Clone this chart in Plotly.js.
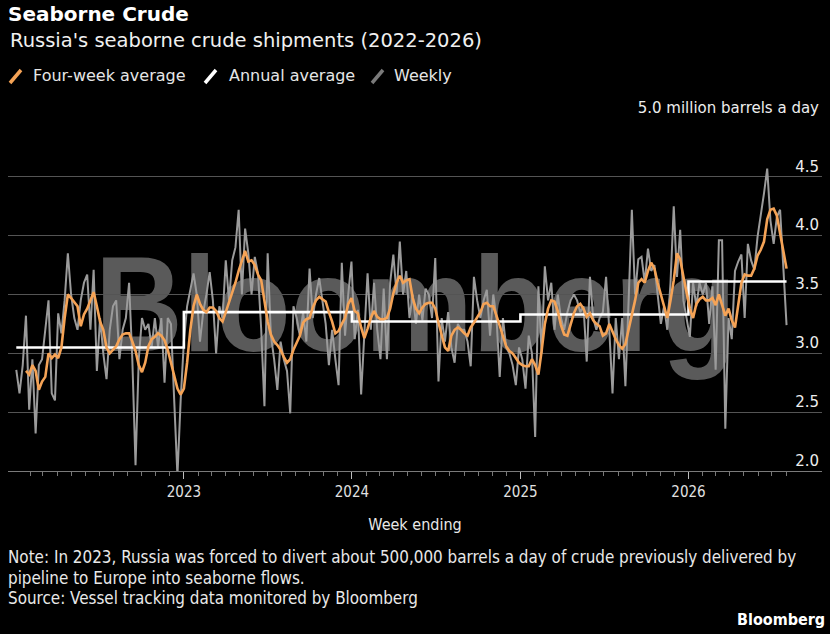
<!DOCTYPE html>
<html><head><meta charset="utf-8">
<script src="https://cdn.plot.ly/plotly-3.0.1.min.js"></script>
<style>
html,body{margin:0;padding:0;background:#000;overflow:hidden;}
#wrap{position:relative;width:830px;height:634px;}
#wm{position:absolute;left:0;top:0;}
#chart{position:absolute;left:0;top:0;width:830px;height:634px;}
</style></head><body>
<div id="wrap">
<svg id="wm" width="830" height="634"><text x="105.5" y="351" transform="scale(0.90,1)" font-family="Liberation Sans, Arial, sans-serif" font-weight="bold" font-size="135" fill="#5a5a5a">Bloomberg</text></svg>
<div id="chart"></div></div>
<script>
// ---- data (million barrels a day) ----
const firstWeekEnding = '2022-01-02';
const weekly = [
 2.86,2.66,2.9,3.32,2.52,2.95,2.32,2.9,2.95,3.2,
 3.45,2.66,2.6,3.34,3.17,3.45,3.85,3.5,3.3,3.2,
 3.45,3.6,3.67,3.2,3.71,2.85,3.3,3.0,2.78,3.2,
 3.4,3.45,2.95,3.2,3.3,3.6,2.95,2.05,2.95,3.3,
 3.2,3.25,3.05,3.3,3.05,3.3,2.75,3.3,3.25,2.6,
 1.96,2.6,3.1,3.4,3.55,3.68,3.5,
 3.1,3.35,3.5,3.69,3.45,3.0,3.4,3.3,3.79,3.45,
 3.79,3.9,4.22,3.5,4.06,3.85,3.5,3.82,3.68,3.2,
 2.55,3.85,3.15,2.95,2.69,3.1,2.95,2.85,2.49,3.4,
 3.3,3.15,3.35,3.1,3.72,3.3,3.5,3.64,3.45,3.25,
 2.9,3.2,2.95,2.73,
 3.77,3.15,3.5,3.78,3.12,3.37,2.65,3.2,3.68,3.2,
 3.6,3.2,2.95,3.55,2.95,3.6,3.84,3.5,3.95,3.5,
 3.7,3.3,3.5,3.25,3.5,3.28,3.55,3.5,3.3,3.81,
 2.76,3.3,3.1,3.35,3.05,2.92,3.25,3.2,3.2,3.1,
 2.89,3.65,3.45,3.3,3.45,3.54,3.15,3.5,3.3,2.8,
 3.3,3.05,3.0,2.9,2.73,
 3.05,2.95,2.7,3.15,3.0,2.29,3.57,3.0,3.74,3.45,
 3.6,3.2,3.5,3.3,3.2,3.35,3.45,3.5,3.45,3.35,
 3.4,2.93,3.65,3.3,3.2,3.3,3.35,3.65,3.2,2.66,
 3.3,2.95,3.3,2.72,3.45,4.22,3.5,3.8,3.82,3.6,
 3.89,3.7,3.75,3.5,3.25,3.4,3.2,3.6,4.25,3.65,
 4.05,3.45,3.28,3.14,3.6,3.4,3.6,3.5,3.6,3.25,
 3.57,2.86,3.96,3.96,2.36,3.3,3.12,3.7,3.78,3.84,
 3.3,3.93,3.79,3.71,3.99,4.16,4.36,4.57,4.13,3.93,
 4.16,4.22,3.74,3.24
];
const fourWeekAverage = [
 null,null,null,2.85,2.82,2.9,2.85,2.69,2.76,2.8,
 3.0,2.96,2.99,2.96,3.05,3.3,3.5,3.47,3.43,3.4,
 3.23,3.33,3.38,3.45,3.52,3.4,3.27,3.2,3.05,3.0,
 3.03,3.06,3.12,3.16,3.17,3.17,3.1,3.02,2.9,2.84,
 2.92,3.06,3.12,3.14,3.17,3.15,3.11,3.03,2.92,2.8,
 2.7,2.65,2.7,2.92,3.2,3.4,3.5,
 3.42,3.37,3.35,3.39,3.39,3.36,3.3,3.27,3.35,3.43,
 3.52,3.6,3.7,3.78,3.87,3.78,3.79,3.75,3.67,3.62,
 3.43,3.27,3.16,3.1,3.07,3.03,2.97,2.92,2.95,3.03,
 3.09,3.15,3.26,3.29,3.3,3.39,3.45,3.48,3.46,3.44,
 3.35,3.27,3.17,3.19,3.25,3.3,3.42,3.47,
 3.36,3.34,3.22,3.13,3.21,3.3,3.36,3.31,3.29,3.29,
 3.3,3.38,3.51,3.6,3.66,3.6,3.62,3.63,3.47,3.38,
 3.34,3.39,3.42,3.43,3.43,3.38,3.26,3.16,3.05,3.02,
 3.15,3.2,3.22,3.2,3.17,3.15,3.22,3.26,3.3,3.35,
 3.42,3.43,3.4,3.4,3.32,3.23,3.14,3.06,3.02,3.0,2.96,
 2.92,2.9,2.89,2.89,2.95,2.9,2.82,3.02,3.25,3.38,
 3.45,3.44,3.36,3.24,3.16,3.15,3.24,3.34,3.4,3.42,
 3.38,3.31,3.34,3.28,3.25,3.23,3.15,3.17,3.25,3.18,
 3.12,3.07,3.04,3.08,3.2,3.33,3.45,3.6,3.63,3.6,
 3.7,3.77,3.72,3.6,3.5,3.4,3.3,3.45,3.62,3.85,
 3.8,3.65,3.5,3.38,3.3,3.42,3.46,3.48,3.45,3.45,
 3.47,3.41,3.5,3.4,3.32,3.38,3.28,3.22,3.4,3.6,
 3.67,3.66,3.66,3.72,3.83,3.88,3.95,4.14,4.22,4.23,
 4.17,4.03,3.86,3.72
];
const annualYears = [2022, 2023, 2024, 2025, 2026];
const annualAverage = [3.05, 3.35, 3.27, 3.33, 3.61];
const yearTickLabels = ['2023', '2024', '2025', '2026'];
const yTickValues = [2, 2.5, 3, 3.5, 4, 4.5, 5];
const yTickLabels = ['2.0', '2.5', '3.0', '3.5', '4.0', '4.5', '5.0 million barrels a day'];
const seriesNames = ['Four-week average', 'Annual average', 'Weekly'];
const footerLines = [
  'Note: In 2023, Russia was forced to divert about 500,000 barrels a day of crude previously delivered by',
  'pipeline to Europe into seaborne flows.',
  'Source: Vessel tracking data monitored by Bloomberg'
];

// ---- derived x positions (dates) ----
const DAY = 86400000;
const t0 = Date.parse(firstWeekEnding + 'T00:00:00Z');
const weekDates = weekly.map((_, i) => new Date(t0 + i * 7 * DAY).toISOString().slice(0, 10));
const lastDate = weekDates[weekDates.length - 1];
const annualX = annualYears.map((y, i) => i === 0 ? weekDates[0] : y + '-01-01').concat([lastDate]);
const annualY = annualAverage.concat([annualAverage[annualAverage.length - 1]]);
const minorTicks = [];
for (let y = 2022; y <= 2026; y++) {
  for (let m = 1; m < 12; m++) {
    if (y === 2026 && m > 7) break;
    minorTicks.push(y + '-' + String(m + 1).padStart(2, '0') + '-01');
  }
}

const COND = "'DejaVu Sans Condensed', 'Liberation Sans Narrow', 'DejaVu Sans', sans-serif";
const SANS = "'DejaVu Sans', sans-serif";
const ORANGE = '#f5a356', WHITE = '#ffffff', GREY = '#9b9b9b';

const traces = [
  {type: 'scatter', mode: 'lines', name: seriesNames[2], x: weekDates, y: weekly,
   line: {color: GREY, width: 2}, hoverinfo: 'skip'},
  {type: 'scatter', mode: 'lines', name: seriesNames[1], x: annualX, y: annualY,
   line: {color: WHITE, width: 2.6, shape: 'hv'}, hoverinfo: 'skip'},
  {type: 'scatter', mode: 'lines', name: seriesNames[0], x: weekDates, y: fourWeekAverage,
   line: {color: ORANGE, width: 2.6}, connectgaps: false, hoverinfo: 'skip'}
];

// pixel -> paper helpers for decoration placement
const L = 8, R = 822, T = 118, B = 471;
const px = v => (v - L) / (R - L);
const py = v => (B - v) / (B - T);

const legendItems = [
  {x0: 10, x1: 21, color: ORANGE, textX: 31, label: seriesNames[0]},
  {x0: 205, x1: 216, color: WHITE, textX: 227, label: seriesNames[1]},
  {x0: 372, x1: 383, color: '#7a7a7a', textX: 392, label: seriesNames[2]}
];
const shapes = legendItems.map(it => ({
  type: 'line', xref: 'paper', yref: 'paper',
  x0: px(it.x0), y0: py(83), x1: px(it.x1), y1: py(70),
  line: {color: it.color, width: 3.5}
}));
const annotations = legendItems.map(it => ({
  xref: 'paper', yref: 'paper', x: px(it.textX), y: py(76), xanchor: 'left', yanchor: 'middle',
  text: it.label, showarrow: false, font: {family: SANS, size: 16, color: '#e6e6e6'}
}));
annotations.push({
  xref: 'paper', yref: 'paper', x: px(8), y: py(40), xanchor: 'left', yanchor: 'middle',
  text: "Russia's seaborne crude shipments (2022-2026)", showarrow: false,
  font: {family: SANS, size: 19.5, color: '#f0f0f0'}
});
const footerY = [557, 577.5, 598];
footerLines.forEach((line, i) => annotations.push({
  xref: 'paper', yref: 'paper', x: px(6), y: py(footerY[i]), xanchor: 'left', yanchor: 'middle', align: 'left',
  text: line, showarrow: false, font: {family: COND, size: 16.9, color: '#e8e8e8'}
}));
annotations.push({
  xref: 'paper', yref: 'paper', x: px(827), y: py(619), xanchor: 'right', yanchor: 'middle',
  text: '<b>Bloomberg</b>', showarrow: false, font: {family: COND, size: 16, color: '#ffffff'}
});

const layout = {
  width: 830, height: 634,
  paper_bgcolor: 'rgba(0,0,0,0)', plot_bgcolor: 'rgba(0,0,0,0)',
  margin: {l: L, r: 830 - R, t: T, b: 634 - B, pad: 0},
  showlegend: false,
  font: {family: SANS, color: '#e8e8e8'},
  title: {text: '<b>Seaborne Crude</b>', xref: 'container', x: 8 / 830, xanchor: 'left',
          yref: 'container', y: 1 - 14 / 634, yanchor: 'middle',
          font: {family: SANS, size: 20, color: '#ffffff'}},
  xaxis: {
    type: 'date', range: ['2021-12-15', '2026-10-18'],
    tickmode: 'array', tickvals: yearTickLabels.map(y => y + '-01-01'), ticktext: yearTickLabels,
    ticks: 'outside', ticklen: 7, tickcolor: '#bdbdbd', tickwidth: 1,
    minor: {tickmode: 'array', tickvals: minorTicks, ticks: 'outside', ticklen: 4, tickcolor: '#777', tickwidth: 1, showgrid: false},
    showline: true, linecolor: '#7a7a7a', linewidth: 1,
    showgrid: false, zeroline: false,
    tickfont: {family: COND, size: 15, color: '#e0e0e0'},
    title: {text: 'Week ending', font: {family: COND, size: 16, color: '#e8e8e8'}, standoff: 18},
    fixedrange: true
  },
  yaxis: {
    range: [2, 5], side: 'right',
    tickmode: 'array', tickvals: yTickValues, ticktext: yTickLabels,
    ticklabelposition: 'inside top', ticklabeloverflow: 'allow', ticks: '',
    showgrid: true, gridcolor: '#545454', gridwidth: 1,
    zeroline: false, showline: false,
    tickfont: {family: SANS, size: 15, color: '#ededed'},
    fixedrange: true
  },
  shapes: shapes,
  annotations: annotations
};

Plotly.newPlot('chart', traces, layout, {displayModeBar: false, staticPlot: true});
</script>
</body></html>
